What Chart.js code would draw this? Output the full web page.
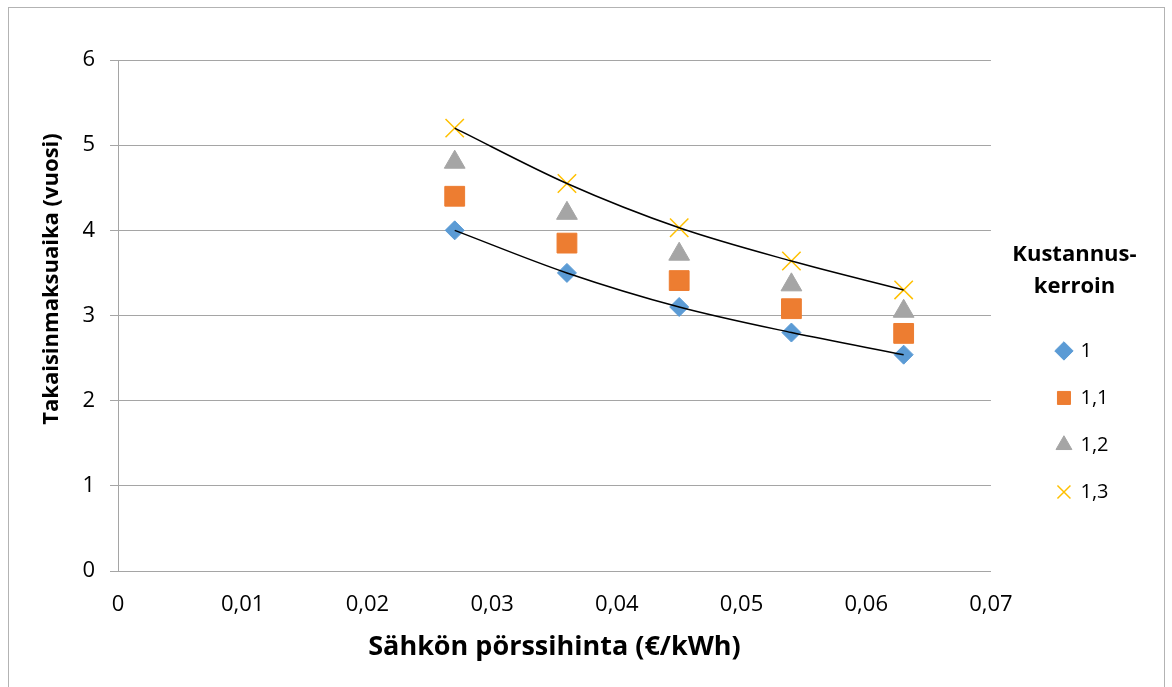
<!DOCTYPE html>
<html lang="fi">
<head>
<meta charset="utf-8">
<title>Takaisinmaksuaika</title>
<script src="https://cdn.jsdelivr.net/npm/chart.js@4.4.1/dist/chart.umd.min.js"></script>
<style>
  html, body { margin: 0; padding: 0; background: #ffffff; }
  #frame {
    position: absolute; left: 8px; top: 7px; width: 1157px; height: 720px;
    border: 1px solid #b3b3b3; box-sizing: border-box;
  }
  #wrap { position: absolute; left: 0; top: 0; width: 1172px; height: 687px; }
</style>
</head>
<body>
<div id="frame"></div>
<div id="wrap"><canvas id="c" width="1172" height="687"></canvas></div>
<script>
// Electricity spot price (€/kWh)
const xPrice = [0.027, 0.036, 0.045, 0.054, 0.063];
// Payback time (years) per cost factor
const paybackK10 = [4.0, 3.5, 3.1, 2.8, 2.54];
const paybackK11 = [4.4, 3.85, 3.41, 3.08, 2.79];
const paybackK12 = [4.8, 4.2, 3.72, 3.36, 3.05];
const paybackK13 = [5.2, 4.55, 4.03, 3.64, 3.3];
const seriesLabels = ['1', '1,1', '1,2', '1,3'];
const xTickLabels = ['0', '0,01', '0,02', '0,03', '0,04', '0,05', '0,06', '0,07'];
const yTickLabels = ['0', '1', '2', '3', '4', '5', '6'];

const FONT = "'Open Sans', 'Liberation Sans', sans-serif";
const GRID = '#a5a5a5';

const pts = ys => xPrice.map((x, i) => ({ x, y: ys[i] }));

const markerSeries = [
  { label: seriesLabels[0], data: pts(paybackK10), pointStyle: 'rectRot', pointRadius: 9.5, backgroundColor: '#5b9bd5', borderColor: '#5b9bd5', borderWidth: 1 },
  { label: seriesLabels[1], data: pts(paybackK11), pointStyle: 'rect', pointRadius: 14, backgroundColor: '#ed7d31', borderColor: '#ed7d31', borderWidth: 1 },
  { label: seriesLabels[2], data: pts(paybackK12), pointStyle: 'triangle', pointRadius: 12, backgroundColor: '#a5a5a5', borderColor: '#a5a5a5', borderWidth: 1 },
  { label: seriesLabels[3], data: pts(paybackK13), pointStyle: 'crossRot', pointRadius: 13, backgroundColor: '#ffc000', borderColor: '#ffc000', borderWidth: 1.5 }
].map(d => Object.assign(d, { order: 1, pointHoverRadius: d.pointRadius, showLine: false }));

// smooth trend curves for the lowest and highest cost factor
const trendSeries = [paybackK10, paybackK13].map(ys => ({
  label: '',
  isTrend: true,
  data: pts(ys),
  showLine: true,
  pointRadius: 0,
  pointHoverRadius: 0,
  borderColor: '#000000',
  borderWidth: 1.5,
  backgroundColor: '#000000',
  cubicInterpolationMode: 'monotone',
  order: 0
}));

// rotated title for the value axis
const yTitlePlugin = {
  id: 'yTitle',
  afterDraw(chart) {
    const ctx = chart.ctx;
    ctx.save();
    ctx.translate(52, 279);
    ctx.rotate(-Math.PI / 2);
    ctx.font = "bold 22px " + FONT;
    ctx.fillStyle = '#000000';
    ctx.textAlign = 'center';
    ctx.textBaseline = 'middle';
    ctx.fillText('Takaisinmaksuaika (vuosi)', 0, 0);
    ctx.restore();
  }
};

const chart = new Chart(document.getElementById('c'), {
  type: 'scatter',
  data: { datasets: [...markerSeries, ...trendSeries] },
  options: {
    responsive: false,
    devicePixelRatio: 1,
    animation: false,
    events: [],
    layout: { padding: { left: 0, top: 60, right: 53.5, bottom: 0 } },
    scales: {
      x: {
        type: 'linear',
        min: 0, max: 0.07,
        afterFit: s => { s.height = 116; },
        grid: { display: false, drawTicks: false },
        border: { display: true, color: GRID, width: 1 },
        ticks: {
          stepSize: 0.01,
          padding: 21,
          color: '#000000',
          font: { family: FONT, size: 22 },
          callback: (v, i) => xTickLabels[i]
        },
        title: {
          display: true,
          text: 'Sähkön pörssihinta (€/kWh)',
          color: '#000000',
          font: { family: FONT, size: 27, weight: 'bold' },
          padding: { top: 0, bottom: 23 }
        }
      },
      y: {
        type: 'linear',
        min: 0, max: 6,
        afterFit: s => { s.width = 118; },
        grid: { color: GRID, lineWidth: 1, tickLength: 8, drawTicks: true },
        border: { display: true, color: GRID, width: 1 },
        ticks: {
          stepSize: 1,
          padding: 15,
          color: '#000000',
          font: { family: FONT, size: 22 },
          callback: (v, i) => yTickLabels[i]
        }
      },
      gap: {
        type: 'linear',
        position: 'right',
        display: true,
        afterFit: s => { s.width = 39.5; },
        grid: { display: false, drawTicks: false },
        border: { display: false },
        ticks: { display: false }
      }
    },
    plugins: {
      tooltip: { enabled: false },
      legend: {
        position: 'right',
        align: 'center',
        title: {
          display: true,
          text: ['Kustannus-', 'kerroin'],
          color: '#000000',
          font: { family: FONT, size: 22, weight: 'bold', lineHeight: 1.45 },
          padding: { top: 26, bottom: 38 }
        },
        labels: {
          usePointStyle: true,
          boxWidth: 13,
          boxHeight: 13,
          padding: 27,
          color: '#000000',
          font: { family: FONT, size: 20 },
          filter: (item, data) => !data.datasets[item.datasetIndex].isTrend
        }
      }
    }
  },
  plugins: [yTitlePlugin]
});

// the legend title is wider than the legend column; let it overflow the box
chart.legend.draw = function () {
  if (this.options.display) this._draw();
};
chart.draw();
</script>
</body>
</html>
